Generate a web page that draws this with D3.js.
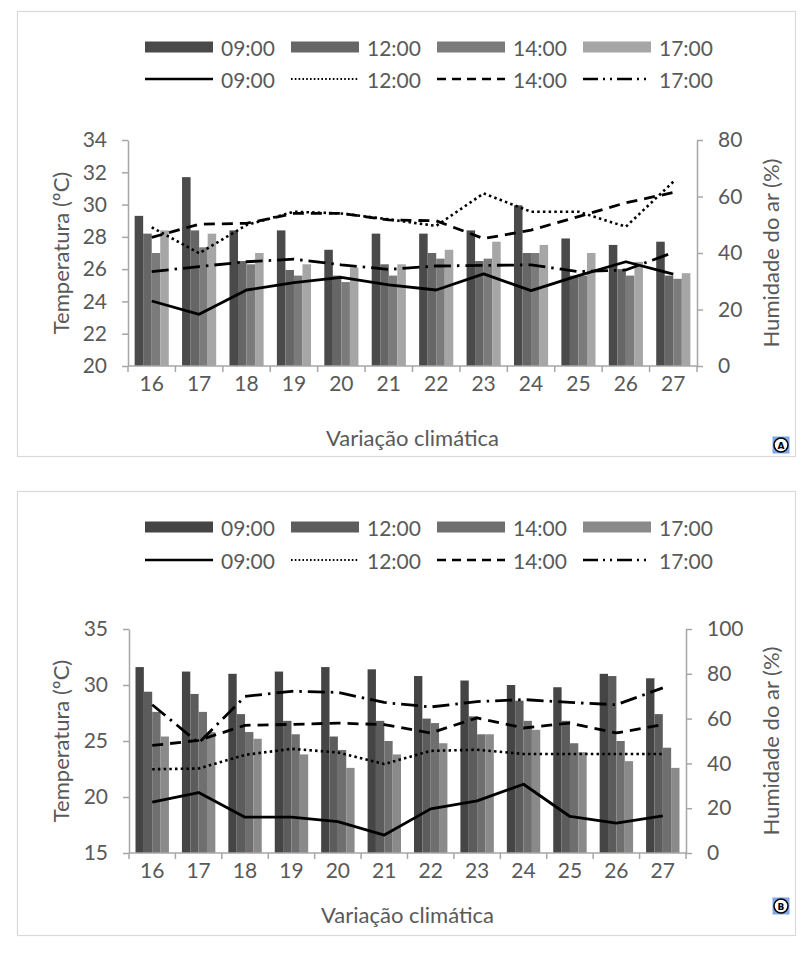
<!DOCTYPE html>
<html><head><meta charset="utf-8">
<script src="https://cdn.jsdelivr.net/npm/d3@7"></script>
<style>
body{margin:0;background:#fff}
svg text{font-family:Lato,"Open Sans",sans-serif;fill:#595959}
</style>
</head><body>
<svg id="chart" width="811" height="967"></svg>
<script>
// ---------- data ----------
const days = ["16","17","18","19","20","21","22","23","24","25","26","27"];
const hourLabels = ["09:00","12:00","14:00","17:00"];

const tempTicksA = [20,22,24,26,28,30,32,34];
const humTicksA = [0,20,40,60,80];
const tempTicksB = [15,20,25,30,35];
const humTicksB = [0,20,40,60,80,100];

// Panel A - temperature (bars)
const tempA_0900 = [29.3,31.7,28.4,28.4,27.2,28.2,28.2,28.4,29.95,27.9,27.5,27.7];
const tempA_1200 = [28.2,28.4,26.5,25.95,25.6,26.3,27.0,26.5,27.0,25.6,26.0,25.6];
const tempA_1400 = [27.0,27.35,26.3,25.6,25.2,25.6,26.65,26.65,27.0,25.6,25.6,25.4];
const tempA_1700 = [28.4,28.2,27.0,26.3,26.1,26.3,27.2,27.7,27.5,27.0,26.45,25.75];
// Panel A - humidity (lines)
const humA_0900 = [23.0,18.3,26.9,29.5,31.4,28.7,26.9,32.6,26.7,32.0,36.9,32.5];
const humA_1200 = [49.1,39.9,49.9,54.6,54.0,51.9,49.6,61.1,54.6,54.6,49.3,65.2];
const humA_1400 = [45.5,50.2,50.5,54.0,54.0,51.7,51.4,45.1,48.1,52.9,57.8,61.4];
const humA_1700 = [33.4,35.2,36.9,37.8,35.8,34.2,35.4,35.6,35.8,33.4,34.0,40.2];

// Panel B - temperature (bars)
const tempB_0900 = [31.6,31.2,31.0,31.2,31.6,31.4,30.8,30.4,30.0,29.8,31.0,30.6];
const tempB_1200 = [29.4,29.2,27.4,26.8,25.4,26.8,27.0,27.2,28.6,26.8,30.8,27.4];
const tempB_1400 = [27.6,27.6,25.8,25.6,24.2,25.0,26.6,25.6,26.8,24.8,25.0,24.4];
const tempB_1700 = [25.4,25.8,25.2,23.8,22.6,23.8,24.8,25.6,26.0,24.0,23.2,22.6];
// Panel B - humidity (lines)
const humB_0900 = [22.7,27.0,16.0,16.0,14.0,8.0,19.7,23.3,30.7,16.3,13.3,16.6];
const humB_1200 = [37.4,37.7,43.8,46.5,44.9,39.7,45.6,46.1,44.2,44.2,44.2,44.2];
const humB_1400 = [48.0,50.3,57.0,57.4,58.0,57.3,53.6,60.3,55.8,58.0,53.6,57.3];
const humB_1700 = [66.2,49.1,69.9,72.2,71.7,67.2,65.2,67.6,68.5,67.2,66.2,73.7];

const xTitle = "Variação climática";
const yTitleLeft = "Temperatura (ºC)";
const yTitleRight = "Humidade do ar (%)";

// ---------- styles ----------
const barColorsA = ["#4a4a4a","#666666","#7b7b7b","#a6a6a6"];
const barColorsB = ["#454545","#5c5c5c","#6f6f6f","#8a8a8a"];
const lineDash = [null,"2.5,3.2","11,7","17,6,2.5,6"];
const axisColor = "#a6a6a6";

const svg = d3.select("#chart");

function drawPanel(p) {
  const g = svg.append("g");
  g.append("rect").attr("x",p.box[0]).attr("y",p.box[1]).attr("width",p.box[2]).attr("height",p.box[3])
    .attr("fill","none").attr("stroke","#d9d9d9").attr("stroke-width",1.2);

  const xCat = d3.scaleBand().domain(days).range([p.left,p.right]).paddingInner(0.28).paddingOuter(0.14);
  const xSub = d3.scaleBand().domain(hourLabels).range([0,xCat.bandwidth()]);
  const xC = d => xCat(d) + xCat.bandwidth()/2;
  const yT = d3.scaleLinear().domain(d3.extent(p.tTicks)).range([p.bottom,p.top]);
  const yH = d3.scaleLinear().domain(d3.extent(p.hTicks)).range([p.bottom,p.top]);

  // bars
  p.temps.forEach((arr,k)=>{
    g.append("g").selectAll("rect").data(arr).join("rect")
      .attr("x",(v,i)=>xCat(days[i])+xSub(hourLabels[k]))
      .attr("width",xSub.bandwidth())
      .attr("y",v=>yT(v))
      .attr("height",v=>yT(p.tTicks[0])-yT(v))
      .attr("fill",p.barColors[k]);
  });

  // lines
  const line = d3.line().x((v,i)=>xC(days[i])).y(v=>yH(v));
  p.hums.forEach((arr,k)=>{
    const path = g.append("path").datum(arr).attr("d",line)
      .attr("fill","none").attr("stroke","#000").attr("stroke-width",k===1?2.6:2.8)
      .attr("stroke-linejoin","round");
    if (lineDash[k]) path.attr("stroke-dasharray",lineDash[k]);
  });

  // left axis
  const ax = g.append("g").attr("transform",`translate(${p.left},0)`)
    .call(d3.axisLeft(yT).tickValues(p.tTicks).tickSize(6).tickSizeOuter(0).tickPadding(15));
  // right axis
  const ar = g.append("g").attr("transform",`translate(${p.right},0)`)
    .call(d3.axisRight(yH).tickValues(p.hTicks).tickSize(6).tickSizeOuter(0).tickPadding(15));
  // bottom axis labels
  const ab = g.append("g").attr("transform",`translate(0,${p.bottom})`)
    .call(d3.axisBottom(xCat).tickSize(0).tickPadding(10));
  [ax,ar,ab].forEach(a=>{
    a.selectAll("path.domain").attr("stroke",axisColor).attr("stroke-width",1.5);
    a.selectAll("line").attr("stroke",axisColor).attr("stroke-width",1.5);
    a.selectAll("text").style("font-size","21px").attr("fill","#595959");
  });
  ab.select("path.domain").remove();
  // horizontal axis line and boundary ticks
  const bounds = d3.range(days.length+1).map(i=>p.left + i*xCat.step());
  g.append("line").attr("x1",p.left).attr("x2",p.right).attr("y1",p.bottom).attr("y2",p.bottom)
    .attr("stroke",axisColor).attr("stroke-width",1.5);
  g.append("g").selectAll("line").data(bounds).join("line")
    .attr("x1",d=>d).attr("x2",d=>d).attr("y1",p.bottom).attr("y2",p.bottom+6)
    .attr("stroke",axisColor).attr("stroke-width",1.5);

  // titles
  const midY = (p.top+p.bottom)/2;
  g.append("text").attr("transform",`translate(${p.yTitleLX},${midY}) rotate(-90)`)
    .attr("text-anchor","middle").attr("dominant-baseline","central").style("font-size","22px").text(yTitleLeft);
  g.append("text").attr("transform",`translate(${p.yTitleRX},${midY}) rotate(-90)`)
    .attr("text-anchor","middle").attr("dominant-baseline","central").style("font-size","22px").text(yTitleRight);
  g.append("text").attr("x",(p.left+p.right)/2).attr("y",p.xTitleY)
    .attr("text-anchor","middle").attr("dominant-baseline","central").style("font-size","22px").text(xTitle);

  // legend
  const lx0 = 145, stride = 146, sw = 68;
  hourLabels.forEach((h,k)=>{
    const x0 = lx0 + k*stride;
    g.append("rect").attr("x",x0).attr("y",p.leg1-5.5).attr("width",sw).attr("height",11).attr("fill",p.barColors[k]);
    g.append("text").attr("x",x0+sw+8).attr("y",p.leg1).attr("dominant-baseline","central").style("font-size","21px").text(h);
    const ls = g.append("line").attr("x1",x0).attr("x2",x0+sw).attr("y1",p.leg2).attr("y2",p.leg2)
      .attr("stroke","#000").attr("stroke-width",k===1?1.8:2.6);
    if (lineDash[k]) ls.attr("stroke-dasharray", k===1 ? "1.6,2.2" : (k===2 ? "9,6" : "15,5,2,5,2,5"));
    g.append("text").attr("x",x0+sw+8).attr("y",p.leg2).attr("dominant-baseline","central").style("font-size","21px").text(h);
  });

  // panel letter marker
  const m = g.append("g").attr("transform",`translate(${p.marker[0]},${p.marker[1]})`);
  m.append("rect").attr("x",-8.5).attr("y",-8.5).attr("width",17).attr("height",17).attr("fill","#7fa8ea");
  m.append("circle").attr("r",7).attr("fill","#fff").attr("stroke","#000").attr("stroke-width",1.5);
  m.append("text").attr("text-anchor","middle").attr("dominant-baseline","central").attr("y",0.5)
    .style("font-family","'DejaVu Sans',Arial,sans-serif").style("font-size","9px").style("font-weight","bold")
    .attr("fill","#000").style("fill","#000").text(p.letter);
}

drawPanel({
  box:[17.5,11.5,778,445], left:128, right:697, top:140, bottom:366,
  tTicks:tempTicksA, hTicks:humTicksA,
  temps:[tempA_0900,tempA_1200,tempA_1400,tempA_1700],
  hums:[humA_0900,humA_1200,humA_1400,humA_1700],
  barColors:barColorsA, leg1:47, leg2:79, xTitleY:437, yTitleLX:60, yTitleRX:770,
  marker:[781,445], letter:"A"
});
drawPanel({
  box:[17.5,491.5,778,444], left:129, right:686, top:629, bottom:853,
  tTicks:tempTicksB, hTicks:humTicksB,
  temps:[tempB_0900,tempB_1200,tempB_1400,tempB_1700],
  hums:[humB_0900,humB_1200,humB_1400,humB_1700],
  barColors:barColorsB, leg1:527, leg2:560, xTitleY:914, yTitleLX:60, yTitleRX:770,
  marker:[781,906], letter:"B"
});
</script>
</body></html>
